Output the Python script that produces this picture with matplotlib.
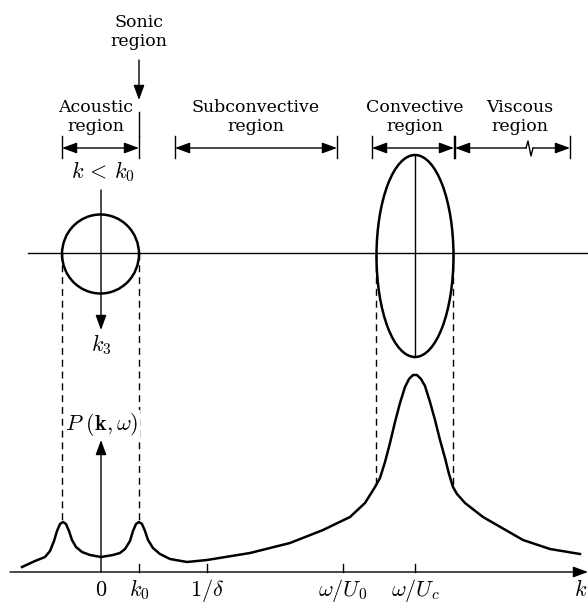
import matplotlib
matplotlib.use('Agg')
import matplotlib.pyplot as plt
from matplotlib.patches import Ellipse

plt.rcParams['font.family'] = 'DejaVu Serif'
plt.rcParams['mathtext.fontset'] = 'cm'

# wavenumber positions (horizontal, in picture units)
k_zero = 101
k_0 = 139
k_minus = 62
k_delta = 207
k_U0 = 343
k_Uc = 415
conv_lo, conv_hi = 376, 453
visc_hi = 570

# spectrum P(k, w): position along k and height above the k axis
curve_k = [22, 35, 45, 50, 54, 57, 60, 63, 66, 69, 72, 76, 82, 90, 101, 113,
           120, 125, 130, 133, 136, 139, 142, 145, 148, 153, 160, 170, 187, 207,
           250, 290, 323, 350, 365, 375, 380, 385, 390, 395, 400, 405, 409, 413,
           417, 421, 425, 430, 435, 440, 445, 449, 453, 457, 465, 483, 523, 550,
           580]
curve_p = [5, 11, 15, 21, 31, 41, 48, 50, 48, 41, 32, 25, 20, 17, 15, 17,
           19, 23, 31, 41, 48, 50, 48, 41, 32, 24, 18, 13, 10, 12,
           19, 29, 42, 55, 69, 85, 94, 110, 129, 150, 169, 185, 193, 197,
           197, 193, 186, 170, 152, 132, 114, 98, 85, 78, 69, 55, 32, 23,
           18]

tick_pos = [k_zero, k_0, k_delta, k_U0, k_Uc]
tick_labels = [r'$0$', r'$k_0$', r'$1/\delta$', r'$\omega/U_0$', r'$\omega/U_c$']

regions = [('Acoustic\nregion', k_minus, k_0, 96),
           ('Subconvective\nregion', 175, 337, 256),
           ('Convective\nregion', 372, 454, 415),
           ('Viscous\nregion', 455, visc_hi, 520)]

base = 572      # k axis line
mid = 253       # wavenumber-plane line
dim_y = 148     # dimension arrows

fig = plt.figure(figsize=(5.88, 6.03), dpi=100)
ax = fig.add_axes([0, 0, 1, 1])
ax.set_xlim(0, 588)
ax.set_ylim(603, 0)
ax.axis('off')

lw_thin = 1.0
math_size = 16
head = 'head_length=0.6,head_width=0.22'
arrow_kw = dict(arrowstyle='-|>,' + head, color='black',
                lw=lw_thin, shrinkA=0, shrinkB=0, mutation_scale=15)
dbl_kw = dict(arrowstyle='<|-|>,' + head, color='black',
              lw=lw_thin, shrinkA=0, shrinkB=0, mutation_scale=15)

# k axis with ticks
ax.annotate('', xy=(588, base), xytext=(10, base), arrowprops=arrow_kw)
for kx, lab in zip(tick_pos, tick_labels):
    if kx != k_zero:
        ax.plot([kx, kx], [base, base - 8], color='black', lw=lw_thin)
    ax.text(kx, 590, lab, ha='center', va='center', fontsize=math_size)
ax.text(581, 590, r'$k$', ha='center', va='center', fontsize=math_size)

# P axis
ax.annotate('', xy=(k_zero, 440), xytext=(k_zero, base), arrowprops=arrow_kw)

# dashed projections
for kx, top, bot in [(k_minus, mid, 521), (k_0, mid, 521),
                     (conv_lo, mid, 487), (conv_hi, mid, 487)]:
    ax.plot([kx, kx], [top, bot], color='black', lw=lw_thin, ls=(0, (5, 3.5)))

ax.text(102, 425, r'$P\ (\mathbf{k},\omega)$', ha='center', va='center', fontsize=math_size,
        bbox=dict(facecolor='white', edgecolor='none', pad=1))

# spectrum
ax.plot(curve_k, [base - p for p in curve_p], color='black', lw=1.8,
        solid_joinstyle='round')

# wavenumber plane
ax.plot([28, 588], [mid, mid], color='black', lw=lw_thin)
ax.add_patch(Ellipse((100.5, mid + 1), 77, 79, fill=False, lw=1.8, color='black'))
ax.add_patch(Ellipse((k_Uc, 256), 77, 202, fill=False, lw=1.8, color='black'))
ax.plot([k_Uc, k_Uc], [155, 357], color='black', lw=lw_thin)
ax.annotate('', xy=(k_zero, 330), xytext=(k_zero, 190), arrowprops=arrow_kw)
ax.text(k_zero, 345, r'$k_3$', ha='center', va='center', fontsize=math_size)
ax.text(103, 172, r'$k\, <\, k_0$', ha='center', va='center', fontsize=math_size)

# region labels with dimension arrows
for name, lo, hi, cx in regions:
    ax.text(cx, 117, name, ha='center', va='center', fontsize=12.5, linespacing=1.15)
    for bx in (lo, hi):
        ax.plot([bx, bx], [136, 158], color='black', lw=lw_thin)
    if name.startswith('Viscous'):
        ax.annotate('', xy=(lo, dim_y), xytext=(526, dim_y), arrowprops=arrow_kw)
        ax.annotate('', xy=(hi, dim_y), xytext=(533, dim_y), arrowprops=arrow_kw)
        ax.plot([526, 528, 531, 533], [dim_y, 141, 156, dim_y], color='black', lw=lw_thin)
    else:
        ax.annotate('', xy=(hi, dim_y), xytext=(lo, dim_y), arrowprops=dbl_kw)

# sonic region marker
ax.plot([k_0, k_0], [112, 136], color='black', lw=lw_thin)
ax.annotate('', xy=(k_0, 100), xytext=(k_0, 60), arrowprops=arrow_kw)
ax.text(k_0, 32, 'Sonic\nregion', ha='center', va='center', fontsize=12.5, linespacing=1.15)

fig.savefig('out.png', dpi=100)
